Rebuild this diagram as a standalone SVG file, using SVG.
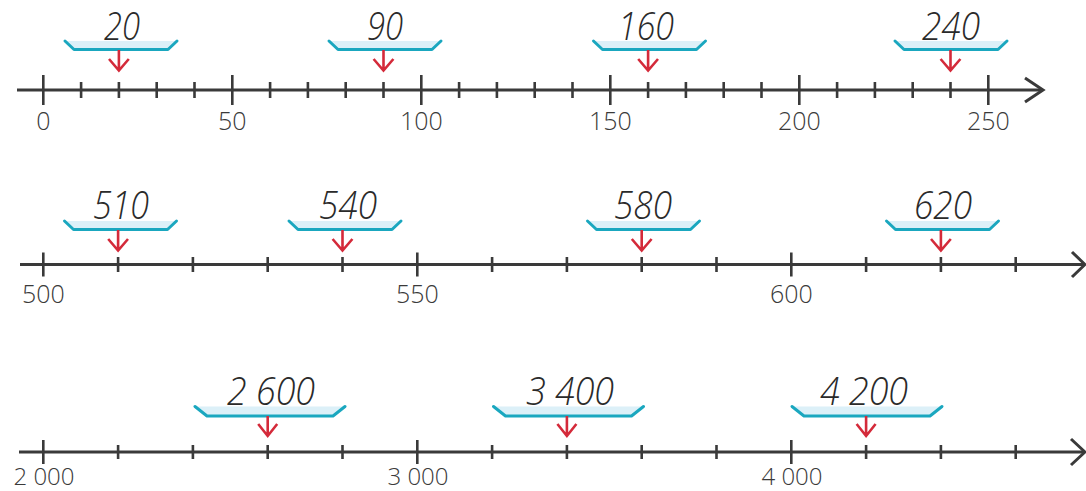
<svg xmlns="http://www.w3.org/2000/svg" width="1086" height="491" viewBox="0 0 1086 491">
<style>
.axis{stroke:#3a3a3a;stroke-width:3;fill:none;stroke-linecap:butt;stroke-linejoin:miter}
.tick{stroke:#3a3a3a;stroke-width:2.6}
.lbl{font-family:"Open Sans","Liberation Sans",sans-serif;font-weight:300;font-size:25px;fill:#3a3a3a;text-anchor:middle}
.lbl3{font-size:24px}
.hw{font-family:"Open Sans","Liberation Sans",sans-serif;font-weight:300;font-style:italic;font-size:39px;fill:#2a2a2a;text-anchor:middle}
.trayfill{fill:#dcf0f8;stroke:none}
.trayedge{fill:none;stroke:#1aa7bf;stroke-width:3;stroke-linejoin:round;stroke-linecap:round}
.arr{fill:none;stroke:#d42a3a;stroke-width:2.6;stroke-linecap:butt;stroke-linejoin:miter}
</style>
<defs>
<g id="trayS"><polygon class="trayfill" points="-56,0 56,0 47,8.5 -47,8.5"/><polyline class="trayedge" points="-56,0 -47,8.5 47,8.5 56,0"/></g>
<g id="trayL"><polygon class="trayfill" points="-75,0 75,0 63,9.5 -63,9.5"/><polyline class="trayedge" points="-75,0 -63,9.5 63,9.5 75,0"/></g>
</defs>

<!-- Number line 1 -->
<g id="line1">
<polyline class="axis" points="17,90 1041,90"/>
<polyline class="axis" points="1025,78 1043,90 1025,102"/>
<path class="tick" d="M43.3,75V105 M81.1,82V98 M118.9,82V98 M156.7,82V98 M194.5,82V98 M232.3,75V105 M270.1,82V98 M307.9,82V98 M345.7,82V98 M383.5,82V98 M421.3,75V105 M459.1,82V98 M496.9,82V98 M534.7,82V98 M572.5,82V98 M610.3,75V105 M648.1,82V98 M685.9,82V98 M723.7,82V98 M761.5,82V98 M799.3,75V105 M837.1,82V98 M874.9,82V98 M912.7,82V98 M950.5,82V98 M988.3,75V105"/>
<text class="lbl" x="43.3" y="130">0</text>
<text class="lbl" x="232.3" y="130">50</text>
<text class="lbl" x="421.3" y="130">100</text>
<text class="lbl" x="610.3" y="130">150</text>
<text class="lbl" x="799.3" y="130">200</text>
<text class="lbl" x="988.3" y="130">250</text>
</g>

<!-- Number line 2 -->
<g id="line2">
<polyline class="axis" points="20,264.5 1083,264.5"/>
<polyline class="axis" points="1072,252 1085,264.5 1072,277"/>
<path class="tick" d="M43.3,252.5V276.5 M118.1,257V272 M192.9,257V272 M267.7,257V272 M342.5,257V272 M417.3,252.5V276.5 M492.1,257V272 M566.9,257V272 M641.7,257V272 M716.5,257V272 M791.3,252.5V276.5 M866.1,257V272 M940.9,257V272 M1015.7,257V272"/>
<text class="lbl" x="43.3" y="303">500</text>
<text class="lbl" x="417.3" y="303">550</text>
<text class="lbl" x="791.3" y="303">600</text>
</g>

<!-- Number line 3 -->
<g id="line3">
<polyline class="axis" points="19,452 1083,452"/>
<polyline class="axis" points="1071,439 1085,452 1071,465"/>
<path class="tick" d="M43.3,440V464 M118.1,445V459 M192.9,445V459 M267.7,445V459 M342.5,445V459 M417.3,440V464 M492.1,445V459 M566.9,445V459 M641.7,445V459 M716.5,445V459 M791.3,440V464 M866.1,445V459 M940.9,445V459 M1015.7,445V459"/>
<text class="lbl lbl3" x="44" y="485">2 000</text>
<text class="lbl lbl3" x="418" y="485">3 000</text>
<text class="lbl lbl3" x="792" y="485">4 000</text>
</g>

<!-- Trays with values -->
<g id="tray-20"><use href="#trayS" x="121" y="41"/><text class="hw" x="122" y="40" textLength="36" lengthAdjust="spacingAndGlyphs">20</text></g>
<g id="tray-90"><use href="#trayS" x="385" y="41"/><text class="hw" x="385" y="40" textLength="36" lengthAdjust="spacingAndGlyphs">90</text></g>
<g id="tray-160"><use href="#trayS" x="649.5" y="41"/><text class="hw" x="646" y="40" textLength="56" lengthAdjust="spacingAndGlyphs">160</text></g>
<g id="tray-240"><use href="#trayS" x="951" y="41"/><text class="hw" x="951" y="40" textLength="58" lengthAdjust="spacingAndGlyphs">240</text></g>

<g id="tray-510"><use href="#trayS" x="120.5" y="221"/><text class="hw" x="121" y="219" textLength="56" lengthAdjust="spacingAndGlyphs">510</text></g>
<g id="tray-540"><use href="#trayS" x="345" y="221"/><text class="hw" x="348" y="219" textLength="58" lengthAdjust="spacingAndGlyphs">540</text></g>
<g id="tray-580"><use href="#trayS" x="643.5" y="221"/><text class="hw" x="643" y="219" textLength="58" lengthAdjust="spacingAndGlyphs">580</text></g>
<g id="tray-620"><use href="#trayS" x="942.5" y="221"/><text class="hw" x="943" y="219" textLength="58" lengthAdjust="spacingAndGlyphs">620</text></g>

<g id="tray-2600"><use href="#trayL" x="270" y="406.5"/><text class="hw" x="271" y="405" textLength="88" lengthAdjust="spacingAndGlyphs">2 600</text></g>
<g id="tray-3400"><use href="#trayL" x="568.5" y="406.5"/><text class="hw" x="570" y="405" textLength="88" lengthAdjust="spacingAndGlyphs">3 400</text></g>
<g id="tray-4200"><use href="#trayL" x="867" y="406.5"/><text class="hw" x="864" y="405" textLength="88" lengthAdjust="spacingAndGlyphs">4 200</text></g>

<!-- Connectors: red arrows -->
<g id="connectors">
<path class="arr" d="M118.9,50V70 M109,59L118.9,70.5L128.8,59"/>
<path class="arr" d="M383.5,50V70 M373.6,59L383.5,70.5L393.4,59"/>
<path class="arr" d="M648.1,50V70 M638.2,59L648.1,70.5L658,59"/>
<path class="arr" d="M950.5,50V70 M940.6,59L950.5,70.5L960.4,59"/>

<path class="arr" d="M118.1,230V250 M108.2,239L118.1,250.5L128,239"/>
<path class="arr" d="M342.5,230V250 M332.6,239L342.5,250.5L352.4,239"/>
<path class="arr" d="M641.7,230V250 M631.8,239L641.7,250.5L651.6,239"/>
<path class="arr" d="M940.9,230V250 M931,239L940.9,250.5L950.8,239"/>

<path class="arr" d="M267.7,416V435.5 M258.2,424L267.7,436L277.2,424"/>
<path class="arr" d="M566.9,416V435.5 M557.4,424L566.9,436L576.4,424"/>
<path class="arr" d="M866.1,416V435.5 M856.6,424L866.1,436L875.6,424"/>
</g>
</svg>
